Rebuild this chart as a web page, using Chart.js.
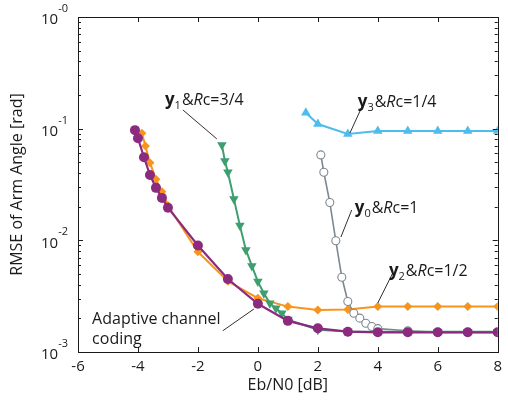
<!DOCTYPE html>
<html>
<head>
<meta charset="utf-8">
<script src="https://cdn.jsdelivr.net/npm/chart.js@4.4.1/dist/chart.umd.min.js"></script>
<style>
  html, body { margin: 0; padding: 0; background: #fff; }
  #wrap { width: 508px; height: 405px; }
</style>
</head>
<body>
<div id="wrap"><canvas id="myChart" width="508" height="405"></canvas></div>
<script>
// Eb/N0 [dB] and RMSE values
const xAdaptive = [-4.1, -4, -3.8, -3.6, -3.4, -3.2, -3, -2, -1, 0, 1, 2, 3, 4, 5, 6, 7, 8];
const yAdaptive = [0.097, 0.082, 0.0555, 0.0385, 0.0295, 0.024, 0.0196, 0.009, 0.0045, 0.0027, 0.0019, 0.00163, 0.00152, 0.0015, 0.0015, 0.0015, 0.0015, 0.0015];

const xRate12 = [-3.87, -3.75, -3.6, -3.4, -3.2, -3, -2, -1, 0, 1, 2, 3, 4, 5, 6, 7, 8];
const yRate12 = [0.091, 0.07, 0.0496, 0.0352, 0.0273, 0.0205, 0.0079, 0.0043, 0.00303, 0.00255, 0.00238, 0.0024, 0.00255, 0.00255, 0.00255, 0.00255, 0.00255];

const xRate34 = [-1.2, -1.1, -1.0, -0.8, -0.6, -0.4, -0.2, 0, 0.2, 0.4, 0.6, 0.8, 1, 2, 3, 4, 5, 6, 7, 8];
const yRate34 = [0.0715, 0.0514, 0.0407, 0.0235, 0.01355, 0.0082, 0.0059, 0.00427, 0.00336, 0.00273, 0.00247, 0.00222, 0.00195, 0.00158, 0.00153, 0.00152, 0.00152, 0.00152, 0.00152, 0.00152];

const xRate1 = [2.1, 2.2, 2.4, 2.6, 2.8, 3.0, 3.2, 3.4, 3.6, 3.8, 4.0, 5, 6, 7, 8];
const yRate1 = [0.0582, 0.0407, 0.0218, 0.0099, 0.00467, 0.00283, 0.00222, 0.00201, 0.00181, 0.00169, 0.00162, 0.00155, 0.0015, 0.0015, 0.0015];

const xRate14 = [1.6, 2, 3, 4, 5, 6, 7, 8];
const yRate14 = [0.139, 0.11, 0.0897, 0.0954, 0.0954, 0.0954, 0.0954, 0.0954];

const xTicks = [-6, -4, -2, 0, 2, 4, 6, 8];
const yTicks = [1, 0.1, 0.01, 0.001];
const yTickExp = ["-0", "-1", "-2", "-3"];

// labels: text start + leader line, all in data units
const notes = [
  { parts: [["y", "bold"], ["1", "sub"], ["&", ""], ["R", "italic"], ["c=3/4", ""]],
    at: [-3.1, 0.163], line: [[-2.5, 0.147], [-1.37, 0.081]] },
  { parts: [["y", "bold"], ["3", "sub"], ["&", ""], ["R", "italic"], ["c=1/4", ""]],
    at: [3.33, 0.156], line: [[3.53, 0.170], [3.07, 0.0913]] },
  { parts: [["y", "bold"], ["0", "sub"], ["&", ""], ["R", "italic"], ["c=1", ""]],
    at: [3.23, 0.0176], line: [[3.13, 0.0187], [2.77, 0.0107]] },
  { parts: [["y", "bold"], ["2", "sub"], ["&", ""], ["R", "italic"], ["c=1/2", ""]],
    at: [4.37, 0.0048], line: [[4.5, 0.0051], [4.0, 0.00275]] },
  { parts: [["Adaptive channel", ""]], at: [-5.53, 0.00179], line: [[-1.17, 0.00155], [-0.13, 0.00243]] },
  { parts: [["coding", ""]], at: [-5.53, 0.00118], line: null }
];

const FONT = '"Open Sans", "DejaVu Sans", sans-serif';

function toPoints(xs, ys) {
  return xs.map((v, i) => ({ x: v, y: ys[i] }));
}

const axisBox = {
  id: "axisBox",
  afterDatasetsDraw(chart) {
    const ctx = chart.ctx;
    const a = chart.chartArea;
    const x = chart.scales.x;
    const y = chart.scales.y;
    ctx.save();
    ctx.strokeStyle = "#1a1a1a";
    ctx.lineWidth = 1;
    ctx.strokeRect(Math.round(a.left) + 0.5, Math.round(a.top) + 0.5, Math.round(a.width), Math.round(a.height));

    ctx.beginPath();
    xTicks.forEach(v => {
      const px = Math.round(x.getPixelForValue(v)) + 0.5;
      ctx.moveTo(px, a.bottom); ctx.lineTo(px, a.bottom - 5);
      ctx.moveTo(px, a.top); ctx.lineTo(px, a.top + 5);
    });
    for (let e = -3; e <= 0; e++) {
      for (let m = 1; m <= 9; m++) {
        const v = m * Math.pow(10, e);
        if (v > 1.0001) continue;
        const py = Math.round(y.getPixelForValue(v)) + 0.5;
        const len = m === 1 ? 5 : 3;
        ctx.moveTo(a.left, py); ctx.lineTo(a.left + len, py);
        ctx.moveTo(a.right, py); ctx.lineTo(a.right - len, py);
      }
    }
    ctx.stroke();

    // y tick labels as 10 with superscript
    ctx.fillStyle = "#1a1a1a";
    ctx.textBaseline = "middle";
    yTicks.forEach((v, i) => {
      const py = y.getPixelForValue(v);
      ctx.font = "11px " + FONT;
      const supW = ctx.measureText(yTickExp[i]).width;
      const endX = a.left - 10;
      ctx.textAlign = "left";
      ctx.fillText(yTickExp[i], endX - supW, py - 8);
      ctx.font = "15px " + FONT;
      ctx.textAlign = "right";
      ctx.fillText("10", endX - supW, py + 3);
    });

    // annotations
    ctx.strokeStyle = "#1a1a1a";
    ctx.lineWidth = 0.9;
    notes.forEach(n => {
      if (n.line) {
        ctx.beginPath();
        ctx.moveTo(x.getPixelForValue(n.line[0][0]), y.getPixelForValue(n.line[0][1]));
        ctx.lineTo(x.getPixelForValue(n.line[1][0]), y.getPixelForValue(n.line[1][1]));
        ctx.stroke();
      }
      let cx = x.getPixelForValue(n.at[0]);
      const by = y.getPixelForValue(n.at[1]);
      ctx.textAlign = "left";
      ctx.textBaseline = "alphabetic";
      n.parts.forEach(p => {
        let dy = 0;
        if (p[1] === "bold") ctx.font = "bold 17px " + FONT;
        else if (p[1] === "sub") { ctx.font = "11px " + FONT; dy = 4; }
        else if (p[1] === "italic") ctx.font = "italic 16px " + FONT;
        else ctx.font = "16px " + FONT;
        ctx.fillText(p[0], cx, by + dy);
        cx += ctx.measureText(p[0]).width + (p[1] === "sub" ? 1 : 0);
      });
    });
    ctx.restore();
  }
};

const ctx = document.getElementById("myChart").getContext("2d");
const myChart = new Chart(ctx, {
  type: "line",
  data: {
    datasets: [
      {
        label: "Adaptive channel coding",
        data: toPoints(xAdaptive, yAdaptive),
        borderColor: "#8b2a7f",
        backgroundColor: "#8b2a7f",
        borderWidth: 2.2,
        pointStyle: "circle",
        pointRadius: 5,
        pointBorderWidth: 0
      },
      {
        label: "y3 Rc=1/4",
        data: toPoints(xRate14, yRate14),
        borderColor: "#4dbdee",
        backgroundColor: "#4dbdee",
        borderWidth: 2,
        pointStyle: "triangle",
        pointRadius: 5.5,
        pointBorderWidth: 0
      },
      {
        label: "y0 Rc=1",
        data: toPoints(xRate1, yRate1),
        borderColor: "#7d8891",
        backgroundColor: "#ffffff",
        borderWidth: 1.6,
        pointStyle: "circle",
        pointRadius: 4,
        pointBorderWidth: 1.1
      },
      {
        label: "y1 Rc=3/4",
        data: toPoints(xRate34, yRate34),
        borderColor: "#3d9e6f",
        backgroundColor: "#3d9e6f",
        borderWidth: 2,
        pointStyle: "triangle",
        pointRotation: 180,
        pointRadius: 5.5,
        pointBorderWidth: 0
      },
      {
        label: "y2 Rc=1/2",
        data: toPoints(xRate12, yRate12),
        borderColor: "#f7941e",
        backgroundColor: "#f7941e",
        borderWidth: 2,
        pointStyle: "rectRot",
        pointRadius: 4.5,
        pointBorderWidth: 0
      }
    ]
  },
  options: {
    responsive: false,
    animation: false,
    layout: { padding: { top: 17, right: 10, left: 0, bottom: 0 } },
    plugins: {
      legend: { display: false },
      tooltip: { enabled: false }
    },
    scales: {
      x: {
        type: "linear",
        min: -6,
        max: 8,
        afterFit(scale) { scale.height = 53; },
        afterBuildTicks(scale) { scale.ticks = xTicks.map(v => ({ value: v })); },
        grid: { display: false, drawTicks: false },
        border: { display: false },
        ticks: { color: "#1a1a1a", font: { family: FONT, size: 15 }, padding: 6, maxRotation: 0 },
        title: { display: true, text: "Eb/N0 [dB]", color: "#1a1a1a", font: { family: FONT, size: 16 }, padding: { top: 0, bottom: 10 } }
      },
      y: {
        type: "logarithmic",
        min: 0.001,
        max: 1,
        afterFit(scale) { scale.width = 78; },
        grid: { display: false, drawTicks: false },
        border: { display: false },
        ticks: { display: false },
        title: { display: true, text: "RMSE of Arm Angle [rad]", color: "#1a1a1a", font: { family: FONT, size: 16 }, padding: { top: 8, bottom: 0 } }
      }
    }
  },
  plugins: [axisBox]
});
</script>
</body>
</html>
